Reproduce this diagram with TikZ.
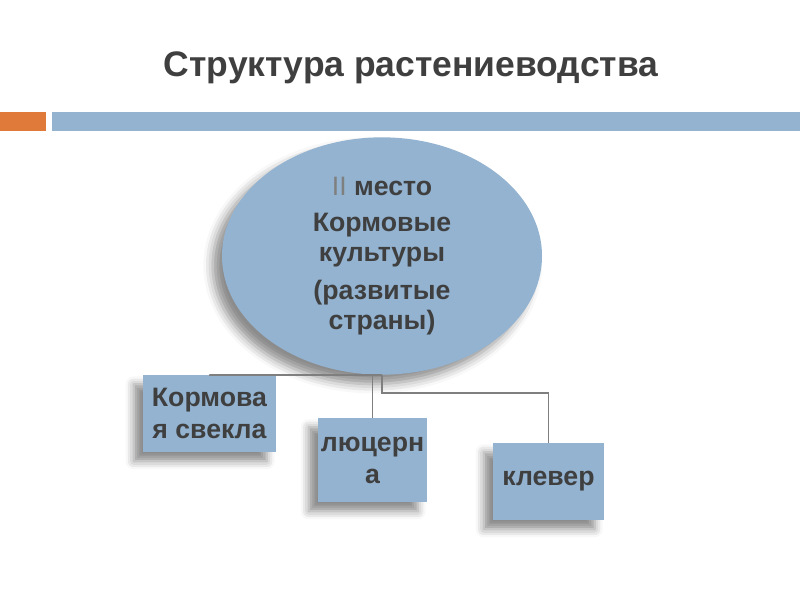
\documentclass[tikz,border=0pt]{standalone}
\usepackage{fontspec}
\setmainfont{Liberation Sans}
\usepackage{tikz}
\usetikzlibrary{shapes,positioning,shadows.blur,shapes.geometric}
\usepackage{xcolor}
\definecolor{paleblue}{HTML}{93B3D1}
\definecolor{barorange}{HTML}{E07A3A}
\definecolor{darktext}{HTML}{3F3F3F}
\definecolor{linegray}{HTML}{7F7F7F}

\begin{document}
\begin{tikzpicture}[
    x=0.75pt, y=-0.75pt,
    crop/.style={rectangle, fill=paleblue, text=darktext, font=\bfseries\fontsize{20}{24}\selectfont, align=center, inner sep=2pt,
        blur shadow={shadow xshift=-7pt, shadow yshift=-7pt, shadow blur radius=6pt, shadow opacity=45}},
    mainnode/.style={ellipse, fill=paleblue, text=darktext, font=\bfseries\fontsize{20}{22.5}\selectfont, align=center, inner sep=0pt,
        minimum width=240pt, minimum height=178pt,
        blur shadow={shadow xshift=-7pt, shadow yshift=-7pt, shadow blur radius=7pt, shadow opacity=45}},
    link/.style={draw=linegray, line width=1.2pt}
]
\useasboundingbox (0,0) rectangle (800,600);

% заголовок
\node (title) at (411,68) [text=darktext, font=\bfseries\fontsize{26.6}{30}\selectfont] {Структура растениеводства};

% полосы под заголовком
\fill[barorange] (0,112) rectangle (46,131);
\fill[paleblue] (52,112) rectangle (800,131);

% главный узел
\node (root) at (382,256) [mainnode] {{\color{linegray}\mdseries II} место\\[4pt]Кормовые\\культуры\\[6pt](развитые\\страны)};

% культуры
\node (beet) at (209.5,413.5) [crop, minimum width=99.75pt, minimum height=57.75pt] {Кормова\\я свекла};
\node (alfalfa) at (372.5,460) [crop, minimum width=81.75pt, minimum height=63pt] {люцерн\\а};
\node (clover) at (548.5,481.5) [crop, minimum width=83.25pt, minimum height=57.75pt] {клевер};

% соединения
\draw [link] (root.south) -| (beet.north);
\draw [link] (root.south -| alfalfa.north) -- (alfalfa.north);
\draw [link] (root.south) -- ++(0,18) -| (clover.north);

\end{tikzpicture}
\end{document}
